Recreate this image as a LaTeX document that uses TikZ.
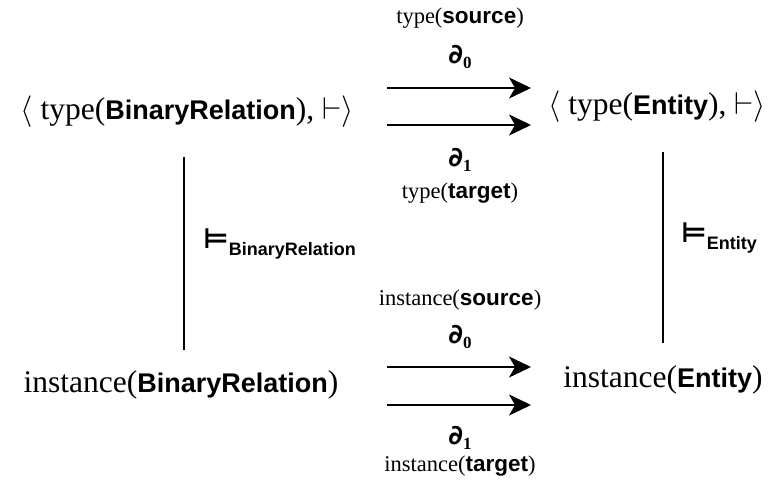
\documentclass[tikz,border=0pt]{standalone}
\usepackage{fix-cm}
\usepackage{fontspec}
\setmainfont{Liberation Serif}
\setsansfont{Liberation Sans}
\newfontfamily\symfont{DejaVu Sans}
\usetikzlibrary{arrows.meta, positioning}

\newcommand{\bnm}[1]{{\sffamily\bfseries\fontsize{27}{32}\selectfont #1}}
\newcommand{\snm}[1]{{\sffamily\bfseries\fontsize{22.5}{26}\selectfont #1}}
\newcommand{\bnd}[1]{{\symfont\bfseries\fontsize{27}{32}\selectfont ∂}\raisebox{-5pt}{\bfseries\fontsize{17}{20}\selectfont #1}}
\newcommand{\mdl}[1]{{\symfont\bfseries\fontsize{28}{32}\selectfont ⊨}\raisebox{-7pt}{\sffamily\bfseries\fontsize{18}{20}\selectfont #1}}

\tikzset{
    obj/.style={inner sep=0pt, font=\fontsize{31.5}{36}\selectfont},
    lbl/.style={inner sep=0pt, font=\fontsize{22.5}{26}\selectfont},
    arrow/.style={line width=1.8pt, -{Stealth[length=22pt, width=21pt, inset=6pt]}},
    bar/.style={line width=1.2pt},
}

\begin{document}
\begin{tikzpicture}[x=1pt, y=-1pt]
  \useasboundingbox (0,0) rectangle (773,481);

  % the four objects
  \node[obj] (TBR) at (187,112) {$\langle$ type(\bnm{BinaryRelation}), $\vdash\rangle$};
  \node[obj] (TE)  at (657,107) {$\langle$ type(\bnm{Entity}), $\vdash\rangle$};
  \node[obj] (IBR) at (181,385) {instance(\bnm{BinaryRelation})};
  \node[obj] (IE)  at (663,380) {instance(\bnm{Entity})};

  % arrow ends
  \coordinate (ts0) at (387,88);  \coordinate (tt0) at (531,88);
  \coordinate (ts1) at (387,125); \coordinate (tt1) at (531,125);
  \coordinate (is0) at (387,367); \coordinate (it0) at (531,367);
  \coordinate (is1) at (387,405); \coordinate (it1) at (531,405);

  \coordinate (lbr0) at (184,157); \coordinate (lbr1) at (184,350);
  \coordinate (le0)  at (663,152); \coordinate (le1)  at (663,343);

  % labels
  \node[lbl] (tsrc) at (460,18)  {type(\snm{source})};
  \node[lbl] (td0)  at (460,57)  {\bnd{0}};
  \node[lbl] (td1)  at (460,160) {\bnd{1}};
  \node[lbl] (ttgt) at (460,193) {type(\snm{target})};
  \node[lbl] (isrc) at (460,300) {instance(\snm{source})};
  \node[lbl] (id0)  at (460,337) {\bnd{0}};
  \node[lbl] (id1)  at (460,438) {\bnd{1}};
  \node[lbl] (itgt) at (460,466) {instance(\snm{target})};

  \node[inner sep=0pt, anchor=west] (mBR) at (203,244) {\mdl{BinaryRelation}};
  \node[inner sep=0pt, anchor=west] (mE)  at (681,238) {\mdl{Entity}};

  % connectors
  \draw[arrow] (ts0) -- (tt0);
  \draw[arrow] (ts1) -- (tt1);
  \draw[arrow] (is0) -- (it0);
  \draw[arrow] (is1) -- (it1);
  \draw[bar] (lbr0) -- (lbr1);
  \draw[bar] (le0) -- (le1);
\end{tikzpicture}
\end{document}
